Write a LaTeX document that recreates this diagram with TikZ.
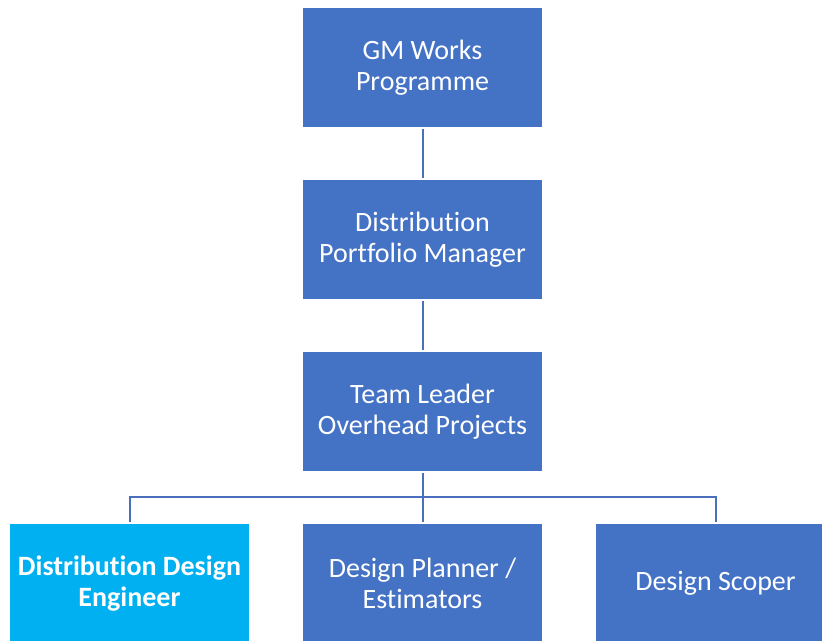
\documentclass[tikz,border=0pt]{standalone}
\usepackage{fontspec}
\setmainfont{Carlito}[Ligatures=NoCommon]
\usepackage{tikz}
\usetikzlibrary{shapes, arrows}
\definecolor{officeblue}{HTML}{4472C4}
\definecolor{skyblue}{HTML}{00B0F0}
\definecolor{linkblue}{HTML}{4A6FBD}
\tikzstyle{line} = [draw=linkblue, line width=2pt, shorten <=2pt, shorten >=2pt]
\tikzstyle{block}=[rectangle, fill=officeblue, text=white, minimum width=239pt, minimum height=119pt, inner sep=0pt, align=center, font=\fontsize{28}{31}\selectfont]

\begin{document}
\begin{tikzpicture}[x=1pt, y=-1pt]
		\clip (0,0) rectangle (822,640);
		\node[block] (G) at (422.5,67.5) {GM Works\\Programme};
		\node[block, below of = G, node distance=172pt] (D) {Distribution\\Portfolio Manager};
		\node[block, below of = D, node distance=172pt] (T) {Team Leader\\Overhead Projects};
		\node[block, below of = T, node distance=172pt] (P) {Design Planner /\\Estimators};
		\node[block, left of = P, node distance=293pt, fill=skyblue, font=\fontsize{28}{31}\selectfont\bfseries] (E) {Distribution Design\\Engineer};
		\node[block, right of = P, node distance=293pt] (S) {Design Scoper};
		\coordinate (bus) at (422.5,497);
		\draw[line] (G) -- (D);
		\draw[line] (D) -- (T);
		\draw[line] (T) -- (P);
		\draw[line] (E.north) |- (bus) -| (S.north);
	\end{tikzpicture}
\end{document}
